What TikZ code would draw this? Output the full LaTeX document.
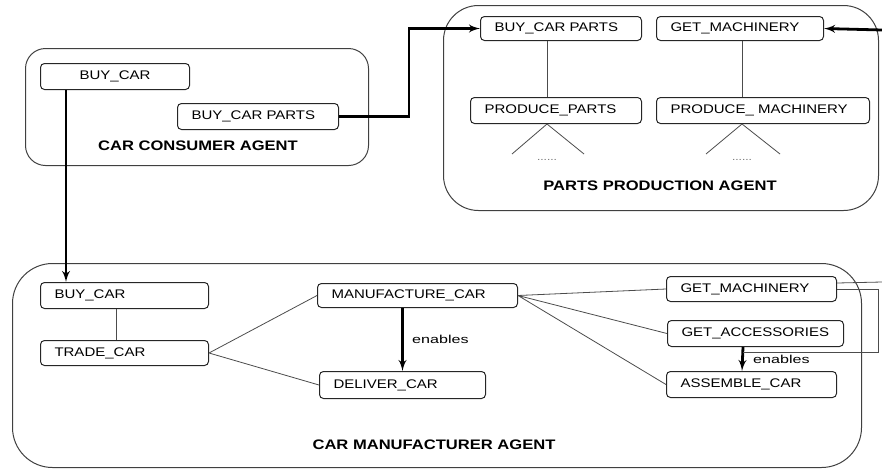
\documentclass[tikz,border=0pt]{standalone}
\usepackage{fontspec}
\setmainfont{Liberation Sans}
\newfontfamily\taskfont{Liberation Sans}[FakeStretch=1.2]
\newfontfamily\enfont{Liberation Sans}[FakeStretch=1.4]
\usepackage{tikz}
\usetikzlibrary{arrows, positioning}

\tikzset{
  task/.style={draw=black!85, line width=1pt, rounded corners=4pt, anchor=north west,
    minimum height=25pt, inner xsep=14pt, inner ysep=0pt, text width=#1, align=left,
    font=\taskfont\fontsize{12.5}{14}\selectfont},
  agent/.style={draw=black!75, line width=1pt, anchor=north west, inner sep=0pt},
  title/.style={font=\taskfont\bfseries\fontsize{13.8}{16}\selectfont},
  dots/.style={font=\taskfont\fontsize{10}{10}\selectfont, text=black!55, inner sep=0pt},
  enlabel/.style={font=\enfont\fontsize{11.5}{12}\selectfont},
  flow/.style={->, line width=2.8pt},
  link/.style={draw=black!70, line width=0.8pt}
}

\begin{document}
\begin{tikzpicture}[>=latex', x=1pt, y=-1pt]
        \useasboundingbox (0,0) rectangle (882,469);
        % agents
        \node[agent, rounded corners=20pt, minimum width=343pt, minimum height=117pt] (consumer) at (25,48) {};
        \node[agent, rounded corners=35pt, minimum width=435pt, minimum height=205pt] (parts) at (443,5) {};
        \node[agent, rounded corners=40pt, minimum width=849pt, minimum height=204pt] (maker) at (12,263) {};
        \node[title] (consumertitle) at (198,146) {CAR CONSUMER AGENT};
        \node[title] (partstitle) at (660,186) {PARTS PRODUCTION AGENT};
        \node[title] (makertitle) at (434,445) {CAR MANUFACTURER AGENT};

        % car consumer
        \node[task=121pt, align=center, minimum height=26pt] (cbuy) at (40,63) {BUY\_CAR};
        \node[task=133pt, minimum height=26pt] (cparts) at (177,103) {BUY\_CAR PARTS};

        % parts production
        \node[task=133pt, minimum height=24pt] (pbuy) at (480,16) {BUY\_CAR PARTS};
        \node[task=139pt, minimum height=24pt] (pget) at (656,16) {GET\_MACHINERY};
        \node[task=143pt, minimum height=26pt] (pprod) at (470,97) {PRODUCE\_PARTS};
        \node[task=185pt, minimum height=26pt] (pmach) at (656,97) {PRODUCE\_ MACHINERY};
        \node[dots] (pdots) at (547,160) {......};
        \node[dots] (mdots) at (742,160) {......};

        % car manufacturer
        \node[task=140pt, minimum height=26pt] (mbuy) at (40,282) {BUY\_CAR};
        \node[task=140pt] (mtrade) at (40,340) {TRADE\_CAR};
        \node[task=172pt, minimum height=24pt] (mmanu) at (317,283) {MANUFACTURE\_CAR};
        \node[task=138pt, minimum height=27pt] (mdeliv) at (319,371) {DELIVER\_CAR};
        \node[task=142pt] (mget) at (666,276) {GET\_MACHINERY};
        \node[task=148pt, minimum height=26pt] (macc) at (667,320) {GET\_ACCESSORIES};
        \node[task=142pt, minimum height=26pt] (massem) at (666,371) {ASSEMBLE\_CAR};

        \coordinate (accjoin) at (743,352);
        \coordinate (mgetout) at (882,282);
        \coordinate (pgetin) at (882,30);

        % connectors
        \draw[flow] ([xshift=26pt]cbuy.south west) -- ([xshift=26pt]mbuy.north west);
        \draw[flow] (cparts.east) -- ++(70,0) |- (pbuy.west);
        \draw[flow] (pgetin) -- (pget.east);

        \draw[link] (pbuy.south -| pdots) -- (pprod.north -| pdots);
        \draw[link] (pget.south -| mdots) -- (pmach.north -| mdots);
        \draw[link] (pprod.south -| pdots) -- ++(-35,30)
                    (pprod.south -| pdots) -- ++(37,30);
        \draw[link] (pmach.south -| mdots) -- ++(-36,30)
                    (pmach.south -| mdots) -- ++(38,30);

        \draw[link] ([xshift=76pt]mbuy.south west) -- ([xshift=76pt]mtrade.north west);
        \draw[link] (mtrade.east) -- (mmanu.west)
                    (mtrade.east) -- (mdeliv.west);
        \draw[flow] (mmanu.south -| mdeliv.north) -- node[right=5pt, enlabel] {enables} (mdeliv.north);
        \draw[link] (mmanu.east) -- (mget.west)
                    (mmanu.east) -- (macc.west)
                    (mmanu.east) -- (massem.west);
        \draw[flow] ([xshift=76pt]macc.south west) -- node[right=6pt, enlabel] {enables} ([xshift=76pt]massem.north west);
        \draw[link] (mget.east) -- ++(41,0) |- (accjoin);
        \draw[link] ([yshift=6pt]mget.east) -- (mgetout);
\end{tikzpicture}
\end{document}
